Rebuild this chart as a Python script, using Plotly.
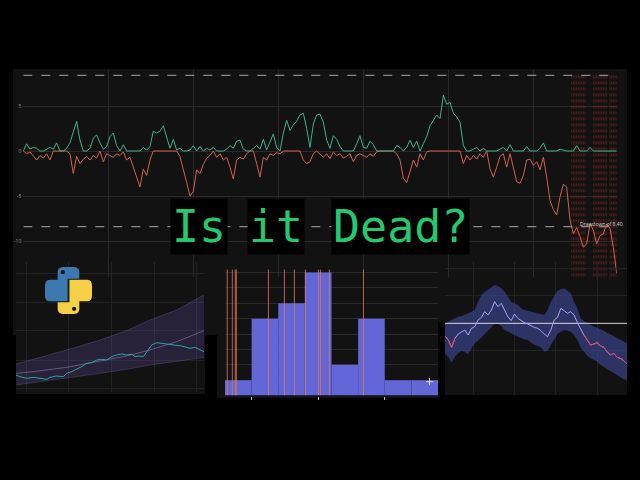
import plotly.graph_objects as go

W, H = 640, 480

# ---------------- main chart data ----------------
up_moves = [
    0, 0.8, 0.2, 0.4, 0.3, 0, 0, 0.2, 0.4, 0.2,
    0.9, 0, 0, 0.3, 0.9, 2.1, 3.3, 1.2, 0, 0,
    0.3, 1.4, 1.8, 0.9, 0.2, 0.5, 1.6, 2.0, 0.6, 0,
    0.7, 0, 0, 0, 0, 0, 0.4, 0.1, 0.5, 2.2,
    2.0, 2.2, 2.8, 1.5, 0.3, 1.3, 0.1, 0.3, 0, 0,
    0.1, 0.6, 0, 0.5, 0, 0.3, 0.1, 0.4, 0, 0,
    0, 0.2, 0.6, 0.3, 1.1, 1.2, 0.2, 0, 0, 0.3,
    0.6, 0.2, 1.3, 0.1, 0.9, 1.9, 0.4, 0, 2.0, 3.4,
    2.3, 2.9, 3.3, 4.0, 4.2, 2.5, 0.4, 3.0, 4.0, 4.1,
    3.2, 1.2, 0.3, 1.7, 1.3, 0.5, 0, 0, 0, 0,
    0.8, 1.7, 0.4, 0.3, 1.1, 0.7, 0, 0, 0, 0,
    0, 0, 0.6, 0.4, 0, 0.4, 1.2, 0.4, 1.1, 0,
    0.8, 1.6, 2.8, 3.4, 4.0, 3.6, 6.2, 5.2, 5.4, 4.2,
    3.8, 3.2, 0.6, 0, 0, 0.2, 0.4, 0, 0.3, 0,
    0, 0, 0, 0.2, 0.4, 0, 0.7, 0, 0, 0,
    0, 0.5, 0, 0, 0, 0.3, 0.9, 0, 0, 0,
    0, 0.2, 0.1, 0, 0, 0, 0.6, 0, 0, 0,
    0.4, 0, 0, 0, 0, 0, 0, 0, 0,
]
down_moves = [
    0, -0.3, -0.1, -0.5, -1.0, -0.5, -0.8, -0.3, -1.0, 0,
    0, 0, 0, 0, -0.3, -2.5, -0.6, -1.4, -0.9, -0.6,
    -1.0, -0.5, -0.8, 0, -1.2, -0.3, -0.5, -0.7, -0.3, -0.5,
    -0.1, -1.0, -0.7, -1.8, -2.9, -4.0, -2.0, -2.7, -1.0, 0,
    0, 0, 0, 0, 0, 0, 0, -0.6, -2.2, -3.5,
    -5.0, -4.5, -2.1, -2.5, -1.5, -0.8, -0.5, 0, -0.7, -0.3,
    -1.0, -0.7, -1.8, -3.1, -1.0, -0.7, -0.9, -0.3, 0, 0,
    -1.4, -2.9, -0.7, -1.0, -0.3, -0.5, -0.2, -0.3, 0, 0,
    0, 0, 0, 0, -1.0, -1.4, -1.2, -0.3, 0, -0.4,
    -0.7, -0.3, -0.85, -0.1, -0.5, -0.3, -0.8, -0.6, -0.3, -1.2,
    -0.5, -0.3, -0.5, -0.7, -0.3, -0.6, -0.1, 0, 0, 0,
    0, 0, -0.3, -1.0, -3.0, -3.5, -2.3, -1.0, -1.8, -0.3,
    -1.0, -0.1, 0, 0, 0, 0, 0, 0, 0, 0,
    0, 0, -1.4, -0.5, -1.0, -0.5, -0.9, -0.3, -0.7, 0,
    -2.0, -2.9, -1.8, -0.6, -0.3, -1.8, -0.3, -1.8, -3.4, -3.6,
    -2.7, -1.0, -0.9, -1.6, -1.2, -2.1, -0.7, -2.9, -5.5, -6.5,
    -7.1, -5.1, -3.7, -4.0, -7.7, -9.2, -8.5, -9.5, -10.7, -10.3,
    -8.1, -8.8, -10.3, -9.4, -9.2, -8.1, -8.6, -10.7, -13.6,
]
threshold = 8.4
main_yticks = [5, 0, -5, -10]
drawdown_idx = [164.5, 165, 165.5, 166, 166.5, 167, 167.5, 168, 168.5,
                171, 171.5, 172, 172.5, 173, 173.5, 174, 174.5, 175,
                176, 176.5, 177, 177.5, 178]
drawdown_label = "Drawdown of 8.40"
title_words = ["Is", "it", "Dead?"]

# ---------------- histogram data ----------------
hist_centers = [-0.06, -0.04, -0.02, 0.0, 0.02, 0.04, 0.06, 0.08]
hist_counts = [1, 5, 6, 8, 2, 5, 1, 1]
hist_marks = [-0.0683, -0.0645, -0.0623, -0.0615, -0.0374, -0.0254,
              -0.0179, -0.0096, 0.0002, 0.0017, 0.0084, 0.034]
hist_ticks = [-0.05, 0.0, 0.05]

# ---------------- forecast cone data ----------------
cone_x = [48, 100, 200, 300, 380, 450, 530, 612]
cone_upper = [6.8, 8.2, 11.0, 14.0, 16.8, 20.0, 23.0, 27.5]
cone_mid = [4.0, 4.5, 5.8, 7.7, 9.2, 11.0, 13.5, 16.8]
cone_lower = [0.5, 1.2, 2.5, 4.0, 5.2, 6.5, 7.6, 8.8]
path_x = [48, 60, 80, 100, 120, 140, 150, 170, 190, 200, 215, 230, 245, 260,
          275, 290, 305, 320, 335, 350, 365, 380, 395, 405, 420, 430, 440,
          455, 470, 485, 500, 515, 530, 545, 560, 570, 585, 600, 612]
path_y = [3.5, 3.0, 2.5, 2.8, 2.5, 2.2, 2.8, 3.2, 3.0, 4.0, 4.5, 5.2, 6.0, 7.0,
          7.2, 8.0, 8.2, 8.0, 9.0, 9.5, 9.8, 9.5, 9.8, 9.0, 9.2, 9.0, 10.5,
          12.5, 13.2, 13.0, 12.8, 12.8, 12.5, 12.2, 11.8, 11.5, 11.8, 11.2, 10.5]

# ---------------- band chart data ----------------
band_line = [7.2, 6.0, 3.8, 6.5, 7.8, 8.5, 9.0, 7.5, 9.5, 10.0,
             12.0, 12.8, 14.5, 13.5, 15.0, 17.5, 16.0, 17.0, 15.0, 13.0,
             11.8, 13.8, 12.5, 11.8, 11.2, 10.8, 10.2, 9.8, 9.5, 8.8,
             7.8, 7.0, 9.0, 12.0, 12.8, 15.5, 14.8, 14.0, 14.5, 13.5,
             11.2, 9.2, 7.5, 6.0, 4.5, 4.8, 5.2, 4.2, 3.8, 2.5,
             1.5, 2.0, 0.8, 0.5, -0.2, -1.2]
band_upper = [11.0, 11.5, 12.0, 12.5, 13.0, 13.2, 13.5, 14.0, 14.5, 15.0,
              17.5, 19.5, 20.5, 21.2, 22.0, 22.5, 22.2, 21.5, 20.5, 19.0,
              17.5, 17.0, 16.5, 15.5, 15.0, 14.8, 14.5, 14.2, 14.0, 13.7,
              13.5, 15.0, 17.5, 19.2, 20.8, 21.2, 21.5, 20.8, 20.0, 17.5,
              15.5, 12.5, 11.7, 11.2, 10.5, 10.0, 9.7, 9.3, 8.8, 8.2,
              7.8, 7.2, 6.5, 6.0, 5.5, 5.0]
band_lower = [2.0, 1.0, -0.8, 1.0, 2.0, 2.8, 2.5, 1.7, 3.5, 5.0,
              5.8, 6.8, 7.8, 9.0, 10.0, 10.8, 10.8, 10.2, 9.0, 8.5,
              7.8, 7.5, 7.0, 6.5, 6.2, 6.0, 5.2, 4.5, 4.2, 3.8,
              2.5, 2.8, 4.5, 6.2, 7.8, 8.5, 9.0, 8.8, 8.5, 7.5,
              6.0, 3.8, 2.5, 1.2, 0.5, 0.0, -0.5, -1.5, -2.0, -2.8,
              -3.3, -4.0, -4.5, -5.2, -5.6, -6.2]
band_level = 11.0
red_segments = [(0, 3), (42, 55)]


def px(p):
    return p / W


def py(p):
    return 1 - p / H


BG = "#121212"
GRID = "#2a2a2a"
fig = go.Figure()

# ---- main chart ----
n = len(up_moves)
xi = list(range(n))
dx, dy = [], []
for d in drawdown_idx:
    dx += [d, d, None]
    dy += [threshold, -14, None]
fig.add_trace(go.Scatter(x=dx, y=dy, mode="lines",
                         line=dict(color="rgba(150,45,40,0.5)", width=1, dash="dot"),
                         xaxis="x", yaxis="y", hoverinfo="skip"))
fig.add_trace(go.Scatter(x=xi, y=down_moves, mode="lines",
                         line=dict(color="#d6604a", width=1), xaxis="x", yaxis="y"))
fig.add_trace(go.Scatter(x=xi, y=up_moves, mode="lines",
                         line=dict(color="#3cb38c", width=1), xaxis="x", yaxis="y"))

# ---- lower-left cone ----
fig.add_trace(go.Scatter(x=cone_x, y=cone_lower, mode="lines", line=dict(width=0.8, color="rgba(150,120,210,0.35)"),
                         xaxis="x2", yaxis="y2"))
fig.add_trace(go.Scatter(x=cone_x, y=cone_upper, mode="lines", line=dict(width=0.8, color="rgba(150,120,210,0.35)"),
                         fill="tonexty", fillcolor="rgba(115,85,195,0.22)", xaxis="x2", yaxis="y2"))
fig.add_trace(go.Scatter(x=cone_x, y=cone_mid, mode="lines", line=dict(width=1, color="rgba(170,150,220,0.45)"),
                         xaxis="x2", yaxis="y2"))
fig.add_trace(go.Scatter(x=path_x, y=path_y, mode="lines", line=dict(width=1, color="#2fa3a0"),
                         xaxis="x2", yaxis="y2"))

# ---- histogram ----
fig.add_trace(go.Bar(x=hist_centers, y=hist_counts, width=0.02,
                     marker=dict(color="#6366d6", line=dict(width=0)), xaxis="x3", yaxis="y3"))
hx, hy = [], []
for m in hist_marks:
    hx += [m, m, None]
    hy += [0, 8.2, None]
fig.add_trace(go.Scatter(x=hx, y=hy, mode="lines", line=dict(color="rgba(228,120,90,0.8)", width=1),
                         xaxis="x3", yaxis="y3"))
fig.add_trace(go.Scatter(x=[0.0836], y=[0.9], mode="markers",
                         marker=dict(symbol="cross-thin", size=5, line=dict(color="#dddddd", width=1)),
                         xaxis="x3", yaxis="y3"))

# ---- band chart ----
bx = list(range(len(band_line)))
fig.add_trace(go.Scatter(x=bx, y=band_lower, mode="lines", line=dict(width=0), xaxis="x4", yaxis="y4"))
fig.add_trace(go.Scatter(x=bx, y=band_upper, mode="lines", line=dict(width=0), fill="tonexty",
                         fillcolor="rgba(70,78,172,0.55)", xaxis="x4", yaxis="y4"))
fig.add_trace(go.Scatter(x=[bx[0], bx[-1]], y=[band_level, band_level], mode="lines",
                         line=dict(color="#d8d8d8", width=1), xaxis="x4", yaxis="y4"))
fig.add_trace(go.Scatter(x=bx, y=band_line, mode="lines", line=dict(color="#aaa4f5", width=1),
                         xaxis="x4", yaxis="y4"))
for a, b in red_segments:
    fig.add_trace(go.Scatter(x=bx[a:b + 1], y=band_line[a:b + 1], mode="lines",
                             line=dict(color="#e0405e", width=1), xaxis="x4", yaxis="y4"))

# ---- shapes: panel backgrounds ----
shapes = []


def rect(x0, y0, x1, y1, color, layer="below"):
    shapes.append(dict(type="rect", xref="paper", yref="paper", x0=px(x0), x1=px(x1),
                       y0=py(y1), y1=py(y0), fillcolor=color, line=dict(width=0), layer=layer))


rect(13, 69, 627, 335, BG)
rect(16, 335, 205, 394, BG)
rect(217, 262, 438, 398, BG)
rect(445, 300, 627, 395, BG)
rect(438, 322, 445, 400, "#000000")

# dashed threshold lines
for lvl in (threshold, -threshold):
    shapes.append(dict(type="line", xref="x", yref="y", x0=0, x1=n - 1, y0=lvl, y1=lvl,
                       line=dict(color="#8a8a8a", width=1.2, dash="dash"), layer="above"))

# python logo
LX, LY, LS = 45, 267, 47


def lp(u, v):
    return f"{px(LX + u * LS):.5f},{py(LY + v * LS):.5f}"


blue_pts = ("M {a} L {b} Q {c} {d} L {e} Q {f} {g} L {h} L {i} L {j} L {k} Q {l} {m} L {n_} Q {o} {p} L {q} Z")
blue = blue_pts.format(
    a=lp(0.27, 0.25), b=lp(0.27, 0.1), c=lp(0.27, 0), d=lp(0.4, 0), e=lp(0.6, 0),
    f=lp(0.73, 0), g=lp(0.73, 0.1), h=lp(0.73, 0.25), i=lp(0.48, 0.25), j=lp(0.48, 0.73),
    k=lp(0.1, 0.73), l=lp(0, 0.73), m=lp(0, 0.6), n_=lp(0, 0.4), o=lp(0, 0.27), p=lp(0.1, 0.27),
    q=lp(0.27, 0.27))
yellow = blue_pts.format(
    a=lp(0.73, 0.75), b=lp(0.73, 0.9), c=lp(0.73, 1), d=lp(0.6, 1), e=lp(0.4, 1),
    f=lp(0.27, 1), g=lp(0.27, 0.9), h=lp(0.27, 0.75), i=lp(0.52, 0.75), j=lp(0.52, 0.27),
    k=lp(0.9, 0.27), l=lp(1, 0.27), m=lp(1, 0.4), n_=lp(1, 0.6), o=lp(1, 0.73), p=lp(0.9, 0.73),
    q=lp(0.73, 0.73))
shapes.append(dict(type="path", xref="paper", yref="paper", path=blue, fillcolor="#3d79b0",
                   line=dict(width=0), layer="above"))
shapes.append(dict(type="path", xref="paper", yref="paper", path=yellow, fillcolor="#f5cf45",
                   line=dict(width=0), layer="above"))
for (u, v) in [(0.38, 0.11), (0.62, 0.89)]:
    r = 0.045
    shapes.append(dict(type="circle", xref="paper", yref="paper",
                       x0=px(LX + (u - r) * LS), x1=px(LX + (u + r) * LS),
                       y0=py(LY + (v + r) * LS), y1=py(LY + (v - r) * LS),
                       fillcolor=BG, line=dict(width=0), layer="above"))

# ---- annotations ----
annotations = []
word_centers = [199, 276, 400]
for w, cx in zip(title_words, word_centers):
    annotations.append(dict(text=w, xref="paper", yref="paper", x=px(cx), y=py(226),
                            xanchor="center", yanchor="middle", showarrow=False,
                            font=dict(family="DejaVu Sans Mono", size=45, color="#22c96e"),
                            bgcolor="#000000", borderpad=1))
annotations.append(dict(text=drawdown_label, xref="x", yref="y", x=173.5, y=-8.1,
                        showarrow=False, font=dict(size=5, color="#dddddd"),
                        xanchor="center", yanchor="middle"))

ax_common = dict(zeroline=False, showline=False, showticklabels=False, gridcolor=GRID, gridwidth=1)

fig.update_layout(
    width=W, height=H, margin=dict(l=0, r=0, t=0, b=0), autosize=False,
    paper_bgcolor="#000000", plot_bgcolor="rgba(0,0,0,0)", showlegend=False,
    shapes=shapes, annotations=annotations,
    xaxis=dict(domain=[px(23.3), px(616.7)], range=[0, n - 1], tick0=0, dtick=25.5,
               anchor="y", **ax_common),
    yaxis=dict(domain=[py(277), py(70)], range=[-14, 9], tickvals=main_yticks,
               ticktext=[str(v) for v in main_yticks], anchor="x",
               zeroline=False, showline=False, showticklabels=True,
               tickfont=dict(size=5, color="#9a9a9a"), ticklabelstandoff=1,
               gridcolor=GRID, gridwidth=1),
    xaxis2=dict(domain=[px(16), px(204)], range=[48, 612], tickvals=[78, 205, 333, 462, 590],
                anchor="y2", gridcolor="#222222", zeroline=False, showline=False, showticklabels=False),
    yaxis2=dict(domain=[py(392), py(262)], range=[-1.6, 37.4], tickvals=[-0.4, 8.0, 17.0, 25.4, 34.0],
                anchor="x2", gridcolor="#222222", zeroline=False, showline=False, showticklabels=False),
    xaxis3=dict(domain=[px(225), px(438)], range=[-0.07, 0.09], anchor="y3", showgrid=False,
                zeroline=False, showline=False, showticklabels=False, ticks="outside",
                tickvals=hist_ticks, ticklen=3, tickcolor="#bbbbbb", tickwidth=1),
    yaxis3=dict(domain=[py(395.5), py(268)], range=[0, 8.3], dtick=1, anchor="x3", **ax_common),
    xaxis4=dict(domain=[px(445), px(627)], range=[0, 55], tickvals=[8.5, 21, 33.5, 46],
                anchor="y4", gridcolor="#232323", zeroline=False, showline=False, showticklabels=False),
    yaxis4=dict(domain=[py(395), py(262)], range=[-10.5, 29.4], tickvals=[2.75, 19.25, 27.5],
                anchor="x4", gridcolor="#232323", zeroline=False, showline=False, showticklabels=False),
)

fig.write_html("out.html", config={"displayModeBar": False},
               post_script="document.body.style.margin='0';document.body.style.background='#000';")
